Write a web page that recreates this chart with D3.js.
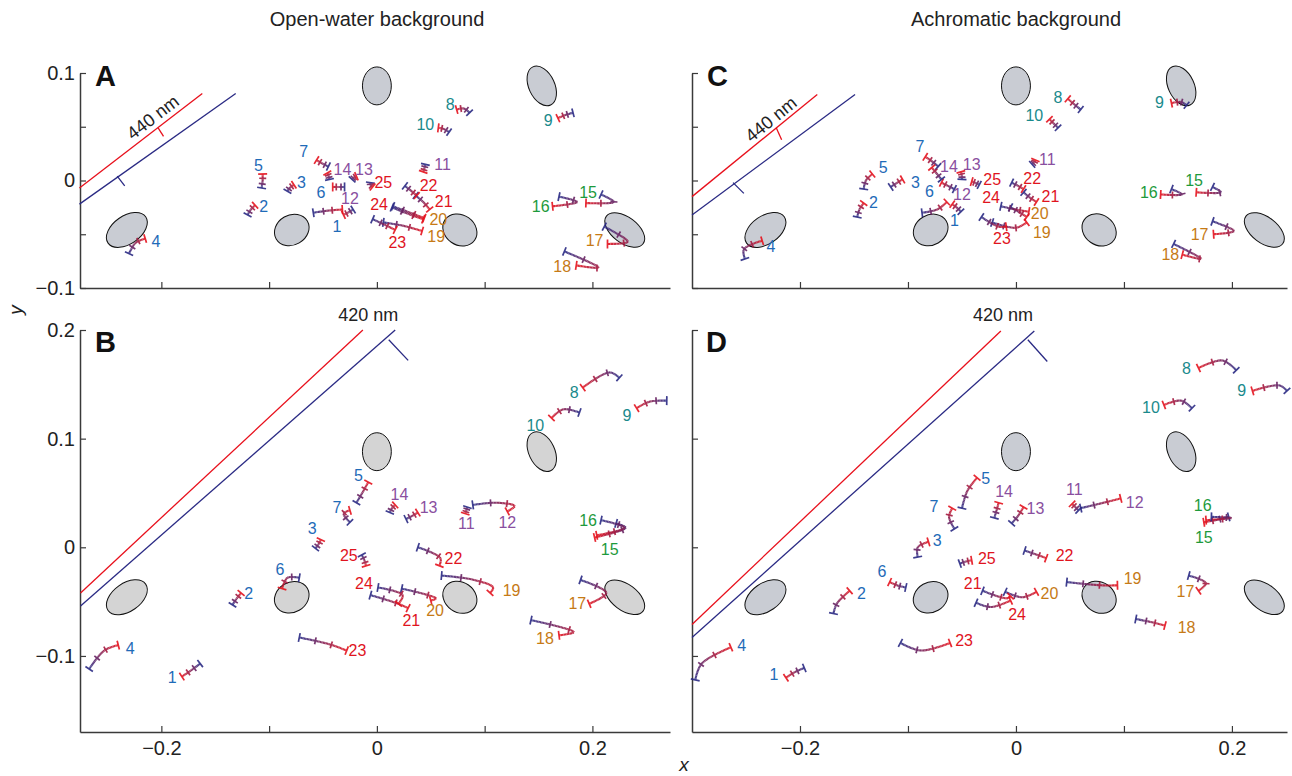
<!DOCTYPE html>
<html><head><meta charset="utf-8">
<script src="https://cdn.jsdelivr.net/npm/d3@7"></script>
<style>body{margin:0;background:#fff}svg{display:block}text{font-family:"Liberation Sans",Arial,sans-serif}</style>
</head><body><svg id="c" width="1292" height="776"></svg>
<script>
// ---------------- data ----------------
const titles = ["Open-water background", "Achromatic background"];
const panelLetters = ["A", "B", "C", "D"];
const groupColors = ["#1f6bb8", "#1a8a8c", "#8a4fa0", "#1e9a3c", "#c67a16", "#e0141e"];
// group index per fish id 1..25
const fishGroup = [0,0,0,0,0,0,0,1,1,1,2,2,2,2,3,3,4,4,4,4,5,5,5,5,5];
// ellipses: cx, cy, semi-axis a, semi-axis b, angle (deg)
const ellipses = [
  [-0.232, -0.046, 0.0213, 0.0130, 35],
  [-0.079, -0.046, 0.0167, 0.0139, 30],
  [0.000, 0.088, 0.0134, 0.0176, 0],
  [0.077, -0.046, 0.0167, 0.0139, -35],
  [0.153, 0.088, 0.0195, 0.0120, -65],
  [0.230, -0.046, 0.0213, 0.0120, -37]
];
// trajectories: [id, points blue->red, label position]
const trajA = [
  [1, [[-0.059,-0.030],[-0.045,-0.028],[-0.032,-0.027]], [-0.037,-0.043]],
  [2, [[-0.120,-0.032],[-0.117,-0.027],[-0.113,-0.023]], [-0.105,-0.024]],
  [3, [[-0.083,-0.010],[-0.081,-0.007],[-0.077,-0.004]], [-0.070,-0.002]],
  [4, [[-0.230,-0.068],[-0.224,-0.058],[-0.215,-0.054]], [-0.205,-0.057]],
  [5, [[-0.107,-0.007],[-0.106,0.000],[-0.106,0.006]], [-0.110,0.014]],
  [6, [[-0.030,-0.006],[-0.035,-0.006],[-0.041,-0.006]], [-0.052,-0.011]],
  [7, [[-0.045,0.013],[-0.051,0.016],[-0.056,0.019]], [-0.068,0.027]],
  [8, [[0.086,0.063],[0.081,0.067],[0.074,0.066]], [0.068,0.071]],
  [9, [[0.182,0.063],[0.175,0.061],[0.168,0.058]], [0.159,0.056]],
  [10, [[0.067,0.045],[0.062,0.048],[0.057,0.049]], [0.045,0.052]],
  [11, [[0.045,0.015],[0.044,0.011],[0.043,0.008]], [0.061,0.015]],
  [12, [[-0.022,-0.027],[-0.027,-0.030],[-0.031,-0.032]], [-0.025,-0.017]],
  [13, [[-0.023,0.001],[-0.021,0.003],[-0.019,0.004]], [-0.012,0.010]],
  [14, [[-0.044,0.001],[-0.045,0.005],[-0.046,0.007]], [-0.032,0.010]],
  [15, [[0.208,-0.013],[0.220,-0.020],[0.194,-0.021]], [0.196,-0.011]],
  [16, [[0.169,-0.015],[0.186,-0.020],[0.163,-0.024]], [0.152,-0.024]],
  [17, [[0.211,-0.043],[0.233,-0.057],[0.214,-0.059]], [0.202,-0.056]],
  [18, [[0.174,-0.066],[0.206,-0.081],[0.185,-0.079]], [0.172,-0.080]],
  [19, [[0.006,-0.039],[0.024,-0.042],[0.042,-0.047]], [0.055,-0.052]],
  [20, [[0.015,-0.024],[0.031,-0.030],[0.044,-0.035]], [0.057,-0.036]],
  [21, [[0.036,-0.014],[0.043,-0.020],[0.049,-0.027]], [0.062,-0.019]],
  [22, [[0.026,-0.005],[0.031,-0.009],[0.037,-0.014]], [0.048,-0.005]],
  [23, [[-0.004,-0.036],[0.007,-0.041],[0.017,-0.046]], [0.019,-0.058]],
  [24, [[0.014,-0.025],[0.029,-0.031],[0.043,-0.036]], [0.002,-0.022]],
  [25, [[-0.006,-0.002],[-0.006,-0.004],[-0.004,-0.006]], [0.006,-0.002]]
];
const trajB = [
  [1, [[-0.164,-0.107],[-0.172,-0.113],[-0.181,-0.119]], [-0.190,-0.120]],
  [2, [[-0.134,-0.053],[-0.130,-0.047],[-0.126,-0.042]], [-0.119,-0.042]],
  [3, [[-0.057,-0.001],[-0.054,0.003],[-0.052,0.007]], [-0.060,0.017]],
  [4, [[-0.267,-0.112],[-0.253,-0.095],[-0.240,-0.090]], [-0.229,-0.093]],
  [5, [[-0.019,0.041],[-0.013,0.051],[-0.008,0.060]], [-0.017,0.066]],
  [6, [[-0.072,-0.028],[-0.083,-0.028],[-0.088,-0.038]], [-0.090,-0.020]],
  [7, [[-0.025,0.023],[-0.031,0.031],[-0.025,0.034]], [-0.037,0.037]],
  [8, [[0.225,0.156],[0.216,0.161],[0.191,0.147]], [0.183,0.143]],
  [9, [[0.269,0.135],[0.253,0.134],[0.241,0.128]], [0.232,0.121]],
  [10, [[0.188,0.124],[0.173,0.127],[0.162,0.119]], [0.147,0.112]],
  [11, [[0.084,0.037],[0.083,0.034],[0.082,0.031]], [0.083,0.022]],
  [12, [[0.089,0.039],[0.111,0.041],[0.128,0.038],[0.121,0.033]], [0.121,0.023]],
  [13, [[0.027,0.026],[0.033,0.029],[0.038,0.032]], [0.048,0.037]],
  [14, [[0.012,0.032],[0.014,0.036],[0.017,0.039]], [0.021,0.049]],
  [15, [[0.222,0.022],[0.231,0.018],[0.202,0.009]], [0.216,-0.002]],
  [16, [[0.208,0.025],[0.230,0.018],[0.204,0.011]], [0.196,0.025]],
  [17, [[0.189,-0.030],[0.213,-0.042],[0.197,-0.052]], [0.186,-0.052]],
  [18, [[0.143,-0.067],[0.183,-0.078],[0.169,-0.081]], [0.156,-0.084]],
  [19, [[0.060,-0.026],[0.090,-0.030],[0.108,-0.037],[0.105,-0.042]], [0.125,-0.040]],
  [20, [[0.023,-0.038],[0.055,-0.047],[0.050,-0.049]], [0.054,-0.058]],
  [21, [[-0.006,-0.044],[0.020,-0.052],[0.029,-0.056]], [0.032,-0.067]],
  [22, [[0.038,0.000],[0.059,-0.010],[0.058,-0.017]], [0.071,-0.010]],
  [23, [[-0.072,-0.083],[-0.045,-0.089],[-0.028,-0.095]], [-0.018,-0.095]],
  [24, [[0.001,-0.037],[0.024,-0.044],[0.020,-0.052]], [-0.012,-0.033]],
  [25, [[-0.014,-0.007],[-0.012,-0.011],[-0.010,-0.017]], [-0.026,-0.007]]
];
const trajC = [
  [1, [[-0.087,-0.030],[-0.073,-0.027],[-0.064,-0.020]], [-0.057,-0.037]],
  [2, [[-0.147,-0.034],[-0.145,-0.027],[-0.141,-0.021]], [-0.132,-0.020]],
  [3, [[-0.116,-0.006],[-0.110,-0.002],[-0.105,0.001]], [-0.093,-0.002]],
  [4, [[-0.251,-0.073],[-0.252,-0.064],[-0.235,-0.056]], [-0.227,-0.061]],
  [5, [[-0.141,-0.008],[-0.139,0.000],[-0.133,0.006]], [-0.123,0.012]],
  [6, [[-0.057,-0.008],[-0.063,-0.005],[-0.069,-0.002]], [-0.080,-0.010]],
  [7, [[-0.072,0.013],[-0.078,0.018],[-0.084,0.022]], [-0.089,0.032]],
  [8, [[0.060,0.066],[0.055,0.070],[0.048,0.076]], [0.039,0.077]],
  [9, [[0.158,0.070],[0.153,0.073],[0.144,0.072]], [0.133,0.073]],
  [10, [[0.039,0.049],[0.035,0.053],[0.031,0.057]], [0.017,0.061]],
  [11, [[0.015,0.015],[0.017,0.017],[0.018,0.019]], [0.029,0.020]],
  [12, [[-0.051,-0.029],[-0.055,-0.025],[-0.059,-0.022]], [-0.050,-0.013]],
  [13, [[-0.050,0.001],[-0.050,0.004],[-0.051,0.008]], [-0.041,0.015]],
  [14, [[-0.069,0.001],[-0.073,0.006],[-0.078,0.012]], [-0.062,0.013]],
  [15, [[0.182,-0.006],[0.190,-0.011],[0.167,-0.011]], [0.165,0.000]],
  [16, [[0.144,-0.008],[0.154,-0.013],[0.134,-0.013]], [0.123,-0.011]],
  [17, [[0.182,-0.038],[0.202,-0.047],[0.183,-0.050]], [0.170,-0.050]],
  [18, [[0.146,-0.059],[0.172,-0.073],[0.154,-0.069]], [0.143,-0.069]],
  [19, [[-0.022,-0.039],[0.000,-0.044],[0.010,-0.039]], [0.024,-0.048]],
  [20, [[-0.005,-0.025],[0.004,-0.030],[0.010,-0.034]], [0.022,-0.031]],
  [21, [[0.007,-0.011],[0.013,-0.016],[0.019,-0.020]], [0.032,-0.015]],
  [22, [[-0.004,-0.002],[0.002,-0.005],[0.007,-0.008]], [0.015,0.002]],
  [23, [[-0.032,-0.034],[-0.016,-0.043],[-0.009,-0.043]], [-0.013,-0.054]],
  [24, [[-0.014,-0.024],[0.000,-0.027],[0.012,-0.029]], [-0.023,-0.016]],
  [25, [[-0.034,-0.004],[-0.038,-0.002],[-0.041,-0.001]], [-0.022,0.001]]
];
const trajD = [
  [1, [[-0.196,-0.111],[-0.205,-0.115],[-0.213,-0.120]], [-0.224,-0.117]],
  [2, [[-0.169,-0.061],[-0.166,-0.052],[-0.154,-0.040]], [-0.143,-0.042]],
  [3, [[-0.091,-0.009],[-0.091,0.000],[-0.081,0.005]], [-0.073,0.006]],
  [4, [[-0.297,-0.122],[-0.291,-0.107],[-0.264,-0.092]], [-0.254,-0.090]],
  [5, [[-0.050,0.036],[-0.045,0.052],[-0.036,0.064]], [-0.028,0.063]],
  [6, [[-0.102,-0.037],[-0.110,-0.035],[-0.117,-0.032]], [-0.124,-0.022]],
  [7, [[-0.057,0.017],[-0.062,0.028],[-0.059,0.036]], [-0.076,0.038]],
  [8, [[0.204,0.163],[0.191,0.172],[0.169,0.165]], [0.158,0.165]],
  [9, [[0.251,0.144],[0.244,0.149],[0.219,0.144]], [0.209,0.144]],
  [10, [[0.163,0.128],[0.153,0.135],[0.137,0.131]], [0.125,0.129]],
  [11, [[0.058,0.034],[0.055,0.037],[0.052,0.040]], [0.054,0.053]],
  [12, [[0.060,0.036],[0.077,0.040],[0.097,0.045]], [0.110,0.041]],
  [13, [[-0.004,0.022],[0.002,0.029],[0.007,0.037]], [0.018,0.036]],
  [14, [[-0.020,0.027],[-0.018,0.034],[-0.016,0.041]], [-0.011,0.051]],
  [15, [[0.197,0.028],[0.185,0.025],[0.174,0.023]], [0.174,0.009]],
  [16, [[0.181,0.028],[0.200,0.027],[0.176,0.025]], [0.173,0.039]],
  [17, [[0.160,-0.026],[0.176,-0.033],[0.169,-0.040]], [0.157,-0.041]],
  [18, [[0.111,-0.066],[0.126,-0.069],[0.138,-0.072]], [0.158,-0.074]],
  [19, [[0.047,-0.032],[0.079,-0.035],[0.094,-0.035]], [0.108,-0.029]],
  [20, [[-0.010,-0.041],[0.006,-0.046],[0.019,-0.041]], [0.031,-0.042]],
  [21, [[-0.031,-0.040],[-0.008,-0.047],[-0.005,-0.045]], [-0.040,-0.033]],
  [22, [[0.008,-0.003],[0.017,-0.006],[0.028,-0.010]], [0.045,-0.007]],
  [23, [[-0.107,-0.088],[-0.088,-0.095],[-0.061,-0.088]], [-0.048,-0.086]],
  [24, [[-0.037,-0.051],[-0.023,-0.055],[-0.005,-0.049]], [0.001,-0.062]],
  [25, [[-0.052,-0.015],[-0.046,-0.013],[-0.041,-0.012]], [-0.027,-0.010]]
];
// spectral reference lines (red / blue), tick marks and wavelength label
const wlA = {red: [[-0.276,-0.007],[-0.162,0.081]], blue: [[-0.276,-0.022],[-0.131,0.081]],
  redTick: [[-0.203,0.049],[-0.198,0.041]], blueTick: [[-0.241,0.004],[-0.234,-0.005]],
  label: "440 nm", at: [-0.208,0.059], rotate: true};
const wlB = {red: [[-0.275,-0.042],[-0.013,0.200]], blue: [[-0.275,-0.054],[0.017,0.200]],
  redTick: null, blueTick: [[0.011,0.191],[0.029,0.172]],
  label: "420 nm", at: [-0.008,0.214], rotate: false};
const wlC = {red: [[-0.300,-0.015],[-0.184,0.080]], blue: [[-0.300,-0.032],[-0.149,0.080]],
  redTick: [[-0.222,0.049],[-0.217,0.038]], blueTick: [[-0.262,-0.002],[-0.252,-0.012]],
  label: "440 nm", at: [-0.227,0.057], rotate: true};
const wlD = {red: [[-0.300,-0.071],[-0.014,0.199]], blue: [[-0.300,-0.083],[0.017,0.199]],
  redTick: null, blueTick: [[0.011,0.191],[0.029,0.171]],
  label: "420 nm", at: [-0.012,0.214], rotate: false};
const ticksSmallY = [-0.1, -0.05, 0, 0.05, 0.1];
const ticksLargeY = [-0.1, 0, 0.1, 0.2];
const ticksX = [-0.2, -0.1, 0, 0.1, 0.2];
const labelledX = [-0.2, 0, 0.2];
const labelledSmallY = [-0.1, 0, 0.1];

// ---------------- drawing ----------------
const svg = d3.select("#c");
const cBlue = "#2a2a84", cRed = "#e6121d";
const colorAt = d3.interpolateRgb(cBlue, cRed);
const fmt = v => (v < 0 ? "\u2212" : "") + d3.format("")(Math.abs(+v.toFixed(3)));

const panels = [
  {key:"A", traj:trajA, wl:wlA, xd:[-0.2755,0.272], xr:[80,670], yd:[-0.1,0.1], yr:[288,73], yt:ticksSmallY, ylab:labelledSmallY, xlab:[], fill:"#c9ccd3", lx:95, ly:86},
  {key:"B", traj:trajB, wl:wlB, xd:[-0.2755,0.272], xr:[80,670], yd:[-0.17,0.2], yr:[732,330], yt:ticksLargeY, ylab:ticksLargeY, xlab:labelledX, fill:"#d4d4d4", lx:95, ly:352},
  {key:"C", traj:trajC, wl:wlC, xd:[-0.3,0.251], xr:[692,1287], yd:[-0.1,0.1], yr:[288,73], yt:ticksSmallY, ylab:[], xlab:[], fill:"#c9ccd3", lx:707, ly:86},
  {key:"D", traj:trajD, wl:wlD, xd:[-0.3,0.251], xr:[692,1287], yd:[-0.17,0.2], yr:[732,330], yt:ticksLargeY, ylab:[], xlab:labelledX, fill:"#c9ccd3", lx:706, ly:352}
];

function drawTraj(g, x, y, t) {
  const pts = t[1].map(p => [x(p[0]), y(p[1])]);
  const line = d3.line().curve(d3.curveCatmullRom.alpha(0.5));
  const tmp = g.append("path").attr("d", line(pts)).attr("fill", "none").attr("stroke", "none");
  const node = tmp.node();
  const L = node.getTotalLength();
  const N = Math.max(10, Math.round(L / 1.5));
  const s = d3.range(N + 1).map(i => node.getPointAtLength(L * i / N));
  tmp.remove();
  const tg = g.append("g").attr("stroke-linecap", "butt").attr("opacity", 0.9);
  for (let i = 0; i < N; i++) {
    tg.append("line").attr("x1", s[i].x).attr("y1", s[i].y).attr("x2", s[i+1].x).attr("y2", s[i+1].y)
      .attr("stroke", colorAt(i / N)).attr("stroke-width", 2.1);
  }
  const fr = [0, 0.33, 0.66, 1];
  fr.forEach((f, k) => {
    const i = Math.round(f * N);
    const a = s[Math.max(0, i - 1)], b = s[Math.min(N, i + 1)];
    let dx = b.x - a.x, dy = b.y - a.y; const len = Math.hypot(dx, dy) || 1;
    dx /= len; dy /= len;
    const h = (k === 0 || k === 3) ? 4.5 : 3.5;
    tg.append("line").attr("x1", s[i].x - dy * h).attr("y1", s[i].y + dx * h)
      .attr("x2", s[i].x + dy * h).attr("y2", s[i].y - dx * h)
      .attr("stroke", colorAt(f)).attr("stroke-width", 1.7);
  });
  g.append("text").attr("x", x(t[2][0])).attr("y", y(t[2][1])).attr("dy", "0.35em")
    .attr("text-anchor", "middle").attr("font-size", 16)
    .attr("fill", groupColors[fishGroup[t[0] - 1]]).text(t[0]);
}

panels.forEach(p => {
  const x = d3.scaleLinear().domain(p.xd).range(p.xr);
  const y = d3.scaleLinear().domain(p.yd).range(p.yr);
  const k = (p.xr[1] - p.xr[0]) / (p.xd[1] - p.xd[0]);
  const g = svg.append("g");

  // axes
  const ax = g.append("g").attr("transform", `translate(0,${p.yr[0]})`)
    .call(d3.axisBottom(x).tickValues(ticksX).tickSizeInner(-6).tickSizeOuter(0).tickPadding(9)
      .tickFormat(d => p.xlab.some(v => Math.abs(v - d) < 1e-9) ? fmt(d) : ""));
  const ay = g.append("g").attr("transform", `translate(${p.xr[0]},0)`)
    .call(d3.axisLeft(y).tickValues(p.yt).tickSizeInner(-6).tickSizeOuter(0).tickPadding(5)
      .tickFormat(d => p.ylab.some(v => Math.abs(v - d) < 1e-9) ? fmt(d) : ""));
  [ax, ay].forEach(a => {
    a.select(".domain").attr("stroke", "#3a3a3a").attr("stroke-width", 1.5);
    a.selectAll(".tick line").attr("stroke", "#3a3a3a").attr("stroke-width", 1.2);
    a.selectAll(".tick text").attr("font-size", 20).attr("fill", "#222")
      .attr("font-family", "'Liberation Sans', Arial, sans-serif");
  });

  // ellipses
  g.append("g").selectAll("ellipse").data(ellipses).join("ellipse")
    .attr("transform", d => `translate(${x(d[0])},${y(d[1])}) rotate(${-d[4]})`)
    .attr("rx", d => d[2] * k).attr("ry", d => d[3] * k)
    .attr("fill", p.fill).attr("stroke", "#111").attr("stroke-width", 1);

  // wavelength reference lines
  const wl = p.wl;
  const seg = (pts, col, w) => g.append("line").attr("x1", x(pts[0][0])).attr("y1", y(pts[0][1]))
    .attr("x2", x(pts[1][0])).attr("y2", y(pts[1][1])).attr("stroke", col).attr("stroke-width", w);
  seg(wl.red, "#e8101c", 1.3);
  seg(wl.blue, "#2a2a84", 1.3);
  if (wl.redTick) seg(wl.redTick, "#e8101c", 1.3);
  if (wl.blueTick) seg(wl.blueTick, "#2a2a84", 1.3);
  const ang = Math.atan2(y(wl.red[1][1]) - y(wl.red[0][1]), x(wl.red[1][0]) - x(wl.red[0][0])) * 180 / Math.PI;
  g.append("text").attr("transform", `translate(${x(wl.at[0])},${y(wl.at[1])}) rotate(${wl.rotate ? ang : 0})`)
    .attr("text-anchor", "middle").attr("dy", "0.35em").attr("font-size", 18).attr("fill", "#222").text(wl.label);

  // trajectories
  p.traj.forEach(t => drawTraj(g, x, y, t));

  // panel letter
  g.append("text").attr("x", p.lx).attr("y", p.ly).attr("font-size", 29).attr("font-weight", "bold")
    .attr("fill", "#111").text(p.key);
});

// titles and axis names
svg.append("text").attr("x", 377).attr("y", 26).attr("text-anchor", "middle").attr("font-size", 20).attr("fill", "#222").text(titles[0]);
svg.append("text").attr("x", 1016).attr("y", 26).attr("text-anchor", "middle").attr("font-size", 20).attr("fill", "#222").text(titles[1]);
svg.append("text").attr("transform", "translate(22,310) rotate(-90)").attr("text-anchor", "middle")
  .attr("font-size", 19).attr("font-style", "italic").attr("fill", "#222").text("y");
svg.append("text").attr("x", 684).attr("y", 771).attr("text-anchor", "middle")
  .attr("font-size", 19).attr("font-style", "italic").attr("fill", "#222").text("x");
</script></body></html>
